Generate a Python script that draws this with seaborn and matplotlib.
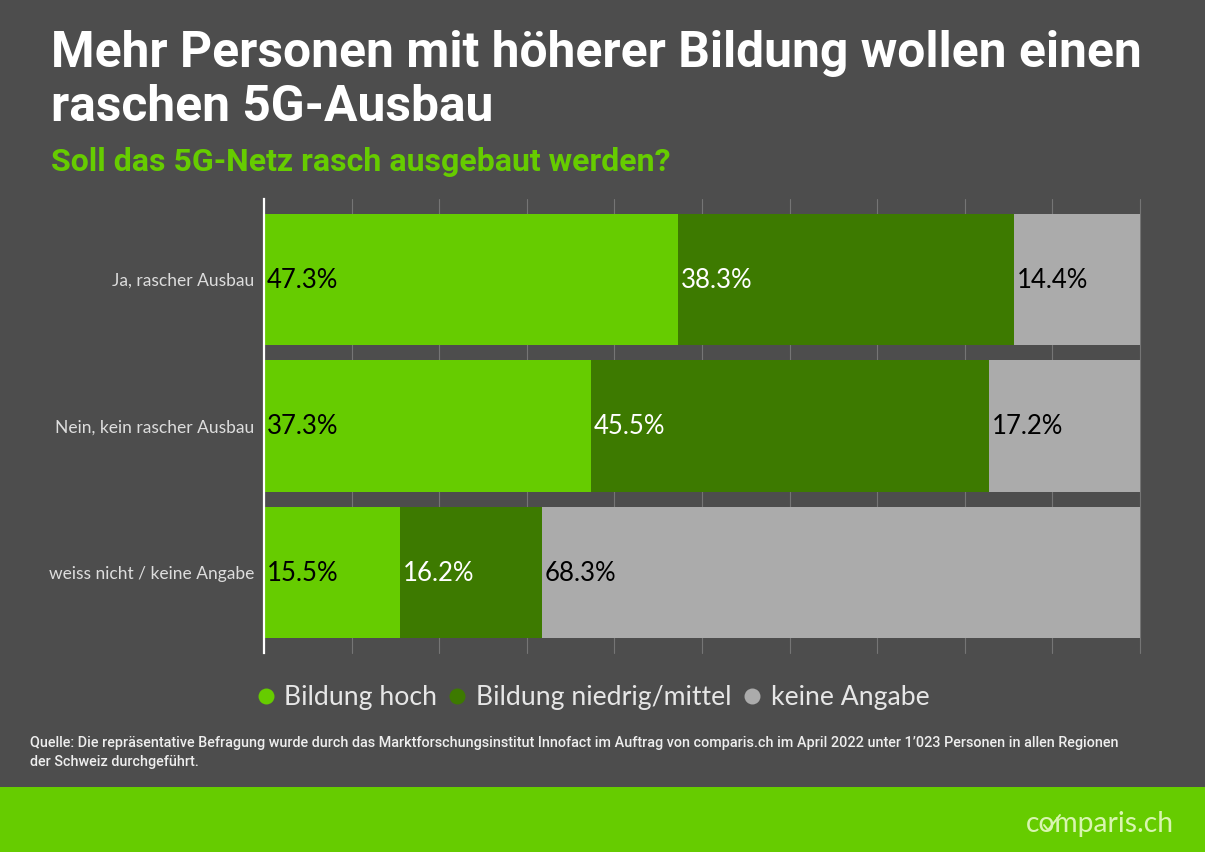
import matplotlib
matplotlib.use("Agg")
import matplotlib.pyplot as plt
from matplotlib.lines import Line2D
from matplotlib.patches import Rectangle
import pandas as pd
import seaborn as sns

categories = ["Ja, rascher Ausbau", "Nein, kein rascher Ausbau", "weiss nicht / keine Angabe"]
hoch = [47.3, 37.3, 15.5]
mittel = [38.3, 45.5, 16.2]
keine = [14.4, 17.2, 68.3]
series_names = ["Bildung hoch", "Bildung niedrig/mittel", "keine Angabe"]
series_colors = ["#66CC00", "#3D7A00", "#ABABAB"]
label_colors = ["black", "white", "black"]
x_ticks = [0, 10, 20, 30, 40, 50, 60, 70, 80, 90, 100]
title = "Mehr Personen mit höherer Bildung wollen einen\nraschen 5G-Ausbau"
subtitle = "Soll das 5G-Netz rasch ausgebaut werden?"
source = ("Quelle: Die repräsentative Befragung wurde durch das Marktforschungsinstitut Innofact im Auftrag von "
          "comparis.ch im April 2022 unter 1’023 Personen in allen Regionen\nder Schweiz durchgeführt.")

BG = "#4D4D4D"
W, H = 1205, 852
sns.set_theme(style="white")
plt.rcParams["font.family"] = ["Lato", "DejaVu Sans"]

fig = plt.figure(figsize=(W / 100, H / 100), dpi=100, facecolor=BG)
ax = fig.add_axes([264 / W, 1 - 653 / H, (1140 - 264) / W, (653 - 199) / H])
ax.set_facecolor(BG)

fig.add_artist(Rectangle((0, 0), 1, 65 / H, transform=fig.transFigure, color="#66CC00", lw=0))

df = pd.DataFrame({"cat": categories, "hoch": hoch, "mittel": mittel, "keine": keine})
lefts = [0.0, 0.0, 0.0]
for col, color, lc in zip(["hoch", "mittel", "keine"], series_colors, label_colors):
    sns.barplot(data=df, y="cat", x=col, left=lefts, color=color, saturation=1, width=0.897,
                orient="h", ax=ax, zorder=3, linewidth=0)
    for i, v in enumerate(df[col]):
        ax.annotate(f"{v:.1f}%", (lefts[i], i), xytext=(2, -0.7), textcoords="offset points",
                    va="center", ha="left", fontsize=18.5, color=lc, zorder=4)
    lefts = [a + b for a, b in zip(lefts, df[col])]

ax.set_xlim(0, 100)
ax.set_ylim(2.549, -0.548)
ax.set_xticks(x_ticks)
ax.set_xticklabels([])
ax.grid(axis="x", color="#757575", lw=0.8, zorder=0)
for gl in ax.get_xgridlines():
    gl.set_clip_on(False)
ax.set_axisbelow(True)
ax.set_xlabel("")
ax.set_ylabel("")
ax.tick_params(axis="x", length=0)
ax.tick_params(axis="y", length=0, pad=7, labelsize=12.5, labelcolor="#DDDDDD")
for s in ["top", "right", "bottom"]:
    ax.spines[s].set_visible(False)
ax.spines["left"].set_color("white")
ax.spines["left"].set_linewidth(1.6)
ax.spines["left"].set_zorder(5)

handles = [Line2D([], [], marker="o", ls="", color=c, markersize=11.5, markeredgewidth=0) for c in series_colors]
fig.legend(handles, series_names, loc="center", bbox_to_anchor=(593.5 / W, 1 - 698 / H), ncol=3, frameon=False,
           fontsize=19.2, labelcolor="#E6E6E6", handlelength=0.6, handletextpad=0.41, columnspacing=0.45,
           borderpad=0, borderaxespad=0)

fig.text(51 / W, 1 - 30 / H, title, ha="left", va="top", color="white", fontsize=35.85,
         fontweight="bold", family="Roboto", linespacing=1.2)
fig.text(51 / W, 1 - 162 / H, subtitle, ha="left", va="center", color="#66CC00", fontsize=23,
         fontweight="bold", family="Roboto")
fig.text(30 / W, 1 - 752.5 / H, source, ha="left", va="center", color="#EEEEEE", fontsize=10.4,
         fontweight="medium", family="Roboto", linespacing=1.5)
fig.text(1174 / W, 1 - 824 / H, "comparis.ch", ha="right", va="center", color="#D8F5B0", fontsize=20.3)
fig.add_artist(Line2D([1044 / W, 1048 / W, 1060 / W], [1 - 825 / H, 1 - 830 / H, 1 - 815 / H],
                      color="#D8F5B0", lw=1.4))

fig.savefig("out.png", dpi=100, facecolor=BG)
